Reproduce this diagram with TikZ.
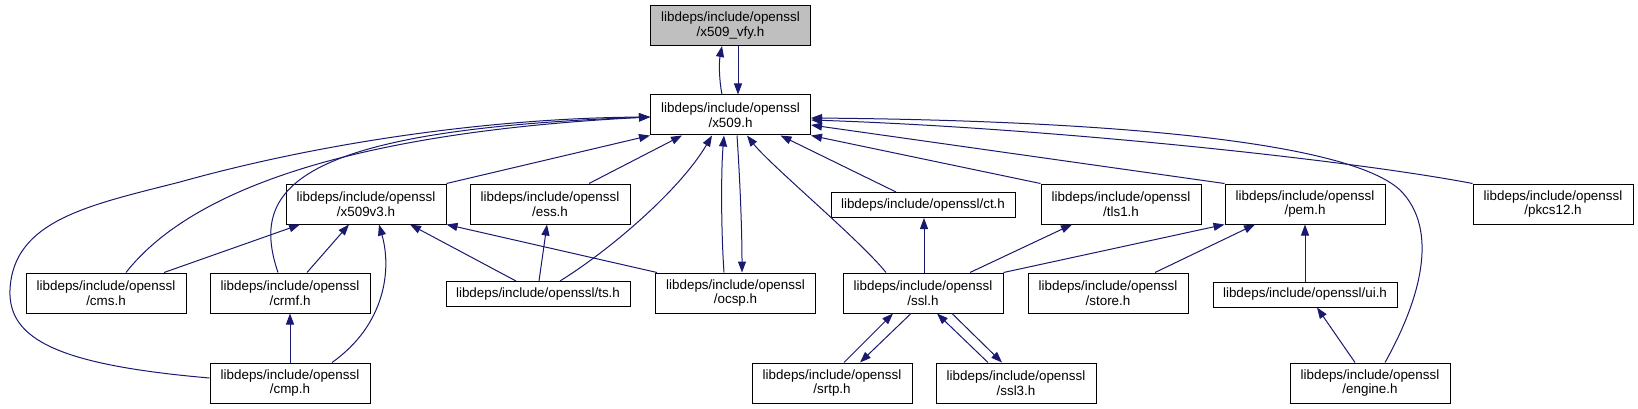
\documentclass[tikz,border=0pt]{standalone}
\usepackage{fontspec}
\setmainfont{Liberation Sans}
\usetikzlibrary{arrows.meta,calc}
\definecolor{edgec}{RGB}{25,25,112}
\definecolor{grayfill}{RGB}{191,191,191}
\tikzset{
  nbox/.style={draw=black, line width=1pt, minimum width=160pt, minimum height=40pt, inner sep=0pt, align=center, font=\fontsize{13.4}{14.6}\selectfont},
  nboxs/.style={nbox, minimum width=184pt, minimum height=25pt},
  edgeline/.style={draw=edgec, line width=1pt, -{Triangle[length=11pt,width=8pt]}}
}
\begin{document}
\begin{tikzpicture}[x=1pt,y=-1pt]
\useasboundingbox[fill=white] (0,0) rectangle (1638,409);
% nodes
\node[nbox,fill=grayfill] (vfy) at (730.5,25.5) {libdeps/include/openssl\\/x509\_vfy.h};
\node[nbox] (x509) at (730.5,115) {libdeps/include/openssl\\/x509.h};
\node[nbox] (x509v3) at (366,204) {libdeps/include/openssl\\/x509v3.h};
\node[nbox] (ess) at (550,204) {libdeps/include/openssl\\/ess.h};
\node[nboxs] (ct) at (923,205) {libdeps/include/openssl/ct.h};
\node[nbox] (tls1) at (1121,204) {libdeps/include/openssl\\/tls1.h};
\node[nbox] (pem) at (1305,204) {libdeps/include/openssl\\/pem.h};
\node[nbox] (pkcs12) at (1553,204) {libdeps/include/openssl\\/pkcs12.h};
\node[nbox] (cms) at (106,293) {libdeps/include/openssl\\/cms.h};
\node[nbox] (crmf) at (290,293) {libdeps/include/openssl\\/crmf.h};
\node[nboxs] (ts) at (538,294) {libdeps/include/openssl/ts.h};
\node[nbox] (ocsp) at (735.5,293) {libdeps/include/openssl\\/ocsp.h};
\node[nbox] (ssl) at (923,293) {libdeps/include/openssl\\/ssl.h};
\node[nbox] (store) at (1108,293) {libdeps/include/openssl\\/store.h};
\node[nboxs] (ui) at (1305,294.5) {libdeps/include/openssl/ui.h};
\node[nbox] (cmp) at (290,383) {libdeps/include/openssl\\/cmp.h};
\node[nbox] (srtp) at (832,383) {libdeps/include/openssl\\/srtp.h};
\node[nbox] (ssl3) at (1016,383) {libdeps/include/openssl\\/ssl3.h};
\node[nbox] (engine) at (1370,383) {libdeps/include/openssl\\/engine.h};
% edges: x509 <-> vfy
\draw[edgeline] ([xshift=-8.5pt]x509.north) .. controls (719,80) and (719,62) .. ([xshift=-8.5pt]vfy.south);
\draw[edgeline] ([xshift=7.5pt]vfy.south) -- ([xshift=7.5pt]x509.north);
% into x509
\draw[edgeline] (x509v3.north east) -- (x509.south west);
\draw[edgeline] ([xshift=20pt]cms.north) .. controls (175,210) and (300,135) .. ([yshift=-2pt]x509.west);
\draw[edgeline] ([xshift=-12pt]crmf.north) .. controls (250,190) and (290,130) .. ([yshift=-2pt]x509.west);
\draw[edgeline] ([yshift=5pt]cmp.west) .. controls (60,365) and (8,340) .. (10,290) .. controls (13,220) and (90,205) .. (180,182) .. controls (330,140) and (500,118) .. ([yshift=-2pt]x509.west);
\draw[edgeline] ([xshift=39pt]ess.north) -- ([xshift=-48.5pt]x509.south);
\draw[edgeline] ([xshift=22pt]ts.north) .. controls (610,250) and (680,190) .. ([xshift=-18.5pt]x509.south);
\draw[edgeline] ([xshift=-11.5pt]ocsp.north) .. controls (721,230) and (721,170) .. ([xshift=-6.5pt]x509.south);
\draw[edgeline] ([xshift=6.5pt]x509.south) .. controls (740,180) and (742,230) .. ([xshift=6.5pt]ocsp.north);
\draw[edgeline] ([xshift=-37pt]ssl.north) .. controls (860,240) and (770,165) .. ([xshift=16.5pt]x509.south);
\draw[edgeline] ([xshift=-27pt]ct.north) -- ([xshift=50pt]x509.south);
\draw[edgeline] (tls1.north west) -- (x509.south east);
\draw[edgeline] (pem.north west) -- ([yshift=-10pt]x509.east);
\draw[edgeline] (pkcs12.north west) .. controls (1350,160) and (1050,128) .. ([yshift=-5pt]x509.east);
\draw[edgeline] ([xshift=15pt]engine.north) .. controls (1420,300) and (1440,230) .. (1400,190) .. controls (1340,135) and (1050,120) .. ([yshift=-3pt]x509.east);
% into x509v3
\draw[edgeline] ([xshift=58pt]cms.north) -- ([xshift=-66pt]x509v3.south);
\draw[edgeline] ([xshift=17pt]crmf.north) -- ([xshift=-17pt]x509v3.south);
\draw[edgeline] ([xshift=42pt]cmp.north) .. controls (385,325) and (392,270) .. ([xshift=13pt]x509v3.south);
\draw[edgeline] ([xshift=-22pt]ts.north) -- ([xshift=44pt]x509v3.south);
\draw[edgeline] ([xshift=2pt]ocsp.north west) -- (x509v3.south east);
% others
\draw[edgeline] ([xshift=1pt]ts.north) -- ([xshift=-3pt]ess.south);
\draw[edgeline] (cmp.north) -- (crmf.south);
\draw[edgeline] ([xshift=1pt]ssl.north) -- ([xshift=1pt]ct.south);
\draw[edgeline] ([xshift=47pt]ssl.north) -- ([xshift=-49pt]tls1.south);
\draw[edgeline] (ssl.north east) -- (pem.south west);
\draw[edgeline] ([xshift=47pt]store.north) -- ([xshift=-50pt]pem.south);
\draw[edgeline] (ui.north) -- (pem.south);
\draw[edgeline] ([xshift=-15pt]engine.north) -- ([xshift=12pt]ui.south);
\draw[edgeline] ([xshift=12pt]srtp.north) -- ([xshift=-30pt]ssl.south);
\draw[edgeline] ([xshift=-12pt]ssl.south) -- ([xshift=28pt]srtp.north);
\draw[edgeline] ([xshift=-28pt]ssl3.north) -- ([xshift=14pt]ssl.south);
\draw[edgeline] ([xshift=29pt]ssl.south) -- ([xshift=-14pt]ssl3.north);
\end{tikzpicture}
\end{document}
